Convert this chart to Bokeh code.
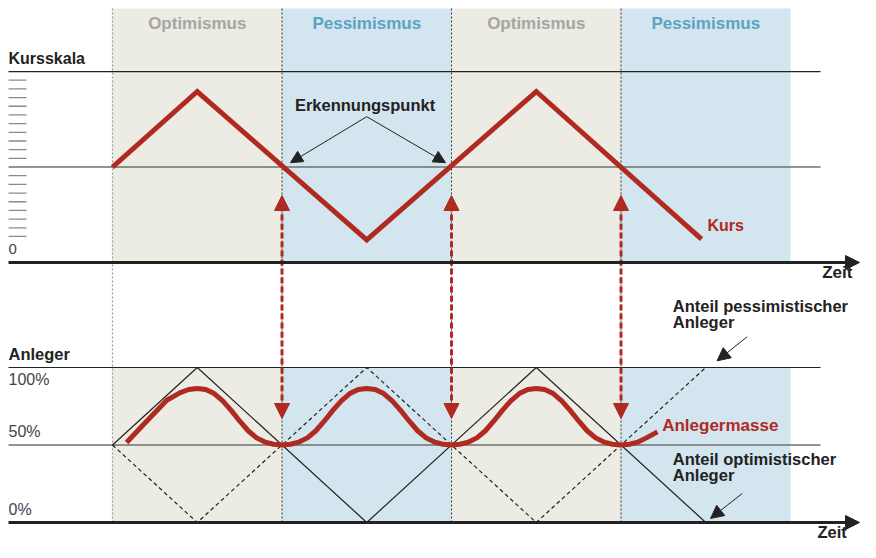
from bokeh.plotting import figure
from bokeh.models import Range1d, Arrow, NormalHead
from bokeh.core.properties import value
from bokeh.embed import file_html
from bokeh.resources import INLINE

# ---------------- data ----------------
phase_labels = ["Optimismus", "Pessimismus", "Optimismus", "Pessimismus"]
phase_start = [0, 1, 2, 3]
phase_end = [1, 2, 3, 4]
phase_mid = [0.5, 1.5, 2.5, 3.5]
phase_kind = ["opt", "pess", "opt", "pess"]
switch_t = [1, 2, 3]          # Erkennungspunkte

# Kurs (in Kursskala units, midline = 11, top line = 22)
kurs_t = [0, 0.5, 1.5, 2.5, 3.475]
kurs_v = [11, 19.7, 2.6, 19.7, 2.7]
kurs_ticks = [3, 4, 5, 6, 7, 8, 9, 10, 12, 13, 14, 15, 16, 17, 18, 19, 20, 21]
kurs_lines = [22, 11]

# Anteile (percent)
opt_t = [0, 0.5, 1.5, 2.5, 3.5]
opt_v = [50, 100, 0, 100, 0]
pess_t = [0, 0.5, 1.5, 2.5, 3.5]
pess_v = [50, 0, 100, 0, 100]
pct_lines = [100, 50]

# Anlegermasse (percent)
mass_t = [0.083, 0.20, 0.32, 0.40, 0.45, 0.50, 0.55, 0.60, 0.65, 0.70, 0.75, 0.80, 0.85, 0.90, 0.95, 1.00,
          1.05, 1.10, 1.15, 1.20, 1.25, 1.30, 1.35, 1.40, 1.45, 1.50, 1.55, 1.60, 1.65, 1.70, 1.75, 1.80, 1.85, 1.90, 1.95, 2.00,
          2.05, 2.10, 2.15, 2.20, 2.25, 2.30, 2.35, 2.40, 2.45, 2.50, 2.55, 2.60, 2.65, 2.70, 2.75, 2.80, 2.85, 2.90, 2.95, 3.00,
          3.05, 3.10, 3.15, 3.215]
mass_v = [51.6, 65.2, 78.9, 83.8, 85.8, 86.5, 85.8, 83.2, 78.5, 72.3, 65.5, 59.2, 54.6, 51.9, 50.5, 50.0,
          50.5, 51.9, 54.6, 59.2, 65.5, 72.3, 78.5, 83.2, 85.8, 86.5, 85.8, 83.2, 78.5, 72.3, 65.5, 59.2, 54.6, 51.9, 50.5, 50.0,
          50.5, 51.9, 54.6, 59.2, 65.5, 72.3, 78.5, 83.2, 85.8, 86.5, 85.8, 83.2, 78.5, 72.3, 65.5, 59.2, 54.6, 51.9, 50.5, 50.0,
          50.5, 51.9, 54.6, 58.5]

# ---------------- layout ----------------
W, H = 860, 542
T0_PX, T_PX = 112, 169.5      # x pixel of t=0, pixels per phase
K0_PY, K_PY = 280, 8.68       # y pixel (from bottom) of Kurs 0, pixels per unit
P0_PY, P_PY = 20, 1.55        # y pixel (from bottom) of 0 %, pixels per percent
TEXT_DY = -6                  # screen-pixel nudge for text baselines

RED = "#b02a22"
DARK = "#222222"
BEIGE = "#ecebe4"
BLUE = "#d3e5ef"
FONT = value("Liberation Sans")

x0 = (8 - T0_PX) / T_PX
x_line_end = (820 - T0_PX) / T_PX
x_tick_end = (26 - T0_PX) / T_PX
x_arrow_end = (859 - T0_PX) / T_PX
ktop = (H - 8 - K0_PY) / K_PY


def pct_to_kurs(pv):
    return (P0_PY + P_PY * pv - K0_PY) / K_PY


p = figure(width=W, height=H, output_backend="svg", toolbar_location=None,
           x_range=Range1d(-T0_PX / T_PX, (W - T0_PX) / T_PX),
           y_range=Range1d(-K0_PY / K_PY, (H - K0_PY) / K_PY),
           x_axis_type=None, y_axis_type=None, min_border=0)
p.extra_y_ranges = {"pct": Range1d(-P0_PY / P_PY, (H - P0_PY) / P_PY)}
p.xgrid.visible = False
p.ygrid.visible = False
p.outline_line_color = None
p.background_fill_color = "white"
p.border_fill_color = "white"

band_colors = [BEIGE if k == "opt" else BLUE for k in phase_kind]

# bands
p.quad(left=phase_start, right=phase_end, bottom=0, top=ktop, fill_color=band_colors, line_color=None)
p.quad(left=phase_start, right=phase_end, bottom=0, top=100, fill_color=band_colors, line_color=None,
       y_range_name="pct")

# vertical dotted lines
ybot = pct_to_kurs(0)
p.segment(x0=[0], y0=[ktop], x1=[0], y1=[ybot], line_color="#999999", line_width=1.2, line_dash="2 2")
p.segment(x0=switch_t, y0=ktop, x1=switch_t, y1=ybot, line_color="#333333", line_width=1, line_dash="2 2")

# horizontal reference lines
p.segment(x0=x0, y0=[kurs_lines[0]], x1=x_line_end, y1=[kurs_lines[0]], line_color=DARK, line_width=1.2)
p.segment(x0=x0, y0=[kurs_lines[1]], x1=x_line_end, y1=[kurs_lines[1]], line_color="#6f6f6f", line_width=1.4)
p.segment(x0=x0, y0=[pct_lines[0]], x1=x_line_end, y1=[pct_lines[0]], line_color=DARK, line_width=1.2,
          y_range_name="pct")
p.segment(x0=x0, y0=[pct_lines[1]], x1=x_line_end, y1=[pct_lines[1]], line_color="#6f6f6f", line_width=1.4,
          y_range_name="pct")

# Kursskala ticks
p.segment(x0=x0, y0=kurs_ticks, x1=x_tick_end, y1=kurs_ticks, line_color="#8a8a8a", line_width=1.3)

# Anteile
p.line(opt_t, opt_v, line_color=DARK, line_width=1.2, y_range_name="pct")
p.line(pess_t, pess_v, line_color=DARK, line_width=1.2, line_dash="4 3", y_range_name="pct")

# Kurs and Anlegermasse
p.line(kurs_t, kurs_v, line_color=RED, line_width=5, line_join="miter")
p.line(mass_t, mass_v, line_color=RED, line_width=5, line_join="round", y_range_name="pct")

# red dashed double arrows
for t in switch_t:
    p.add_layout(Arrow(x_start=t, y_start=pct_to_kurs(67.1), x_end=t, y_end=7.72,
                       line_color=RED, line_width=3, line_dash="6 3",
                       start=NormalHead(size=15, fill_color=RED, line_color=RED, line_width=1),
                       end=NormalHead(size=15, fill_color=RED, line_color=RED, line_width=1)))

# Erkennungspunkt arrows
for xe in [1.05, 1.965]:
    p.add_layout(Arrow(x_start=1.5, y_start=16.8, x_end=xe, y_end=11.5, line_color=DARK, line_width=1,
                       end=NormalHead(size=12, fill_color=DARK, line_color=DARK, line_width=1)))

# Anteil arrows
p.add_layout(Arrow(x_start=3.744, y_start=119.8, x_end=3.567, y_end=104.3, line_color=DARK, line_width=1,
                   y_range_name="pct",
                   end=NormalHead(size=13, fill_color=DARK, line_color=DARK, line_width=1)))
p.add_layout(Arrow(x_start=3.715, y_start=18.7, x_end=3.528, y_end=2.6, line_color=DARK, line_width=1,
                   y_range_name="pct",
                   end=NormalHead(size=13, fill_color=DARK, line_color=DARK, line_width=1)))

# time axes
p.add_layout(Arrow(x_start=x0, y_start=0, x_end=x_arrow_end, y_end=0, line_color=DARK, line_width=3,
                   end=NormalHead(size=14, fill_color=DARK, line_color=DARK, line_width=1)))
p.add_layout(Arrow(x_start=x0, y_start=0, x_end=x_arrow_end, y_end=0, line_color=DARK, line_width=3,
                   y_range_name="pct",
                   end=NormalHead(size=14, fill_color=DARK, line_color=DARK, line_width=1)))

# ---------------- texts ----------------
head_colors = ["#a6a6a1" if k == "opt" else "#5ba2c5" for k in phase_kind]
p.text(x=phase_mid, y=26.8, text=phase_labels, text_color=head_colors, text_font=FONT,
       text_font_style="bold", text_font_size="17px", text_align="center", text_baseline="alphabetic",
       y_offset=TEXT_DY)


def label(x, y, s, size="16px", color=DARK, bold=True, align="left", rng="default"):
    p.text(x=[x], y=[y], text=[s], text_color=color, text_font=FONT,
           text_font_style="bold" if bold else "normal", text_font_size=size,
           text_align=align, text_baseline="alphabetic", y_range_name=rng, y_offset=TEXT_DY)


label(x0, 22.8, "Kursskala", "16px")
label(x0, 0.84, "0", "15px", "#444444", bold=False)
label(1.49, 17.4, "Erkennungspunkt", "16.5px", align="center")
label(3.51, 3.57, "Kurs", "16px", RED)
label(4.187, -1.81, "Zeit", "17px")

label(x0, 104.7, "Anleger", "16.5px", rng="pct")
label(x0, 88.2, "100%", "16px", "#444444", bold=False, rng="pct")
label(x0, 54.8, "50%", "16px", "#444444", bold=False, rng="pct")
label(x0, 4.3, "0%", "16px", "#444444", bold=False, rng="pct")
label(3.306, 135.5, "Anteil pessimistischer", "16.5px", rng="pct")
label(3.306, 125.6, "Anleger", "16.5px", rng="pct")
label(3.243, 58.9, "Anlegermasse", "17px", RED, rng="pct")
label(3.306, 37.0, "Anteil optimistischer", "16.5px", rng="pct")
label(3.306, 26.9, "Anleger", "16.5px", rng="pct")
label(4.159, -10.3, "Zeit", "16.5px", rng="pct")

open("out.html", "w").write(file_html(p, INLINE))
